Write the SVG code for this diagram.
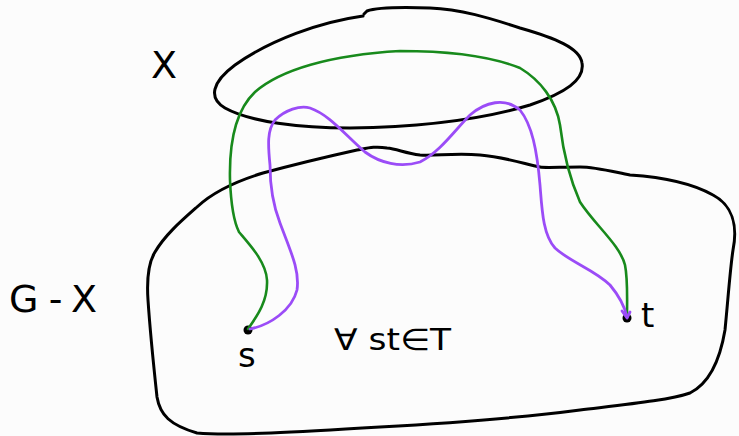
<svg xmlns="http://www.w3.org/2000/svg" width="739" height="436" viewBox="0 0 739 436">
<style>
.outline{fill:none;stroke:#000;stroke-width:3;stroke-linecap:round;stroke-linejoin:round}
.green{fill:none;stroke:#188a1c;stroke-width:2.6;stroke-linecap:round;stroke-linejoin:round}
.purple{fill:none;stroke:#9b4cf7;stroke-width:2.8;stroke-linecap:round;stroke-linejoin:round}
.lbl{font-family:"DejaVu Sans","Liberation Sans",sans-serif;fill:#000}
</style>
<rect width="739" height="436" fill="#fcfcfc"/>
<g id="X">
<path class="outline" d="M363,16 C320,22 270,40 235,65 C212,82 208,98 225,108 C250,122 300,128 350,128 C420,127 480,120 530,105 C565,93 585,80 582,63 C580,48 555,38 520,28 C490,18 460,9 430,8 C400,7 375,8 367,11 L364,14"/>
<text class="lbl" x="151" y="78" font-size="38">X</text>
</g>
<g id="GX">
<path class="outline" d="M357,150 C330,156 300,163 263,173 C240,180 215,190 197,207 C180,222 165,235 155,252 C147,265 147,285 148,300 C150,330 153,360 157,397 C160,415 170,425 197,433 C230,436 300,432 380,427 C450,423 520,418 580,410 C630,404 670,400 690,393 C710,383 720,360 725,330 C728,300 730,270 733,250 C738,225 732,205 713,195 C690,182 660,177 630,175 C610,171 595,167 580,167 C560,167 545,168 540,167 C525,164 505,157 480,155 C455,153 435,156 420,155 C405,153 397,149 387,148 C375,146 368,148 357,150"/>
<text class="lbl" x="9" y="312" font-size="38" textLength="88" lengthAdjust="spacing">G-X</text>
</g>
<g id="s">
<circle cx="248" cy="330" r="4.5" fill="#000"/>
<text class="lbl" x="238" y="367" font-size="34">s</text>
</g>
<g id="t">
<circle cx="627" cy="318" r="4.5" fill="#000"/>
<text class="lbl" x="641" y="327" font-size="34">t</text>
</g>
<g id="label">
<text class="lbl" x="334" y="350" font-size="30" textLength="117" lengthAdjust="spacingAndGlyphs">∀ st∈T</text>
</g>
<g id="connectors">
<path class="green" d="M248,329 C258,315 268,300 267,280 C266,262 250,245 239,232 C234,222 231,205 230,180 C229,140 236,110 255,92 C280,70 330,55 400,51 C450,51 490,56 520,68 C540,80 556,100 560,125 C563,150 568,175 580,202 C595,225 620,245 625,265 C628,280 627,300 627,317"/>
<path class="purple" d="M250,329 C270,325 292,310 297,290 C300,270 290,250 280,223 C273,205 270,185 270,165 C268,145 267,130 275,120 C285,110 300,105 310,108 C330,115 345,135 365,152 C380,163 400,168 420,162 C440,152 455,130 470,115 C485,102 505,97 520,110 C532,125 537,150 540,185 C542,210 543,235 555,248 C570,262 595,270 610,285 C620,297 625,308 627,317"/>
<path class="purple" d="M622,311 L627,318 L630,312"/>
</g>
</svg>
